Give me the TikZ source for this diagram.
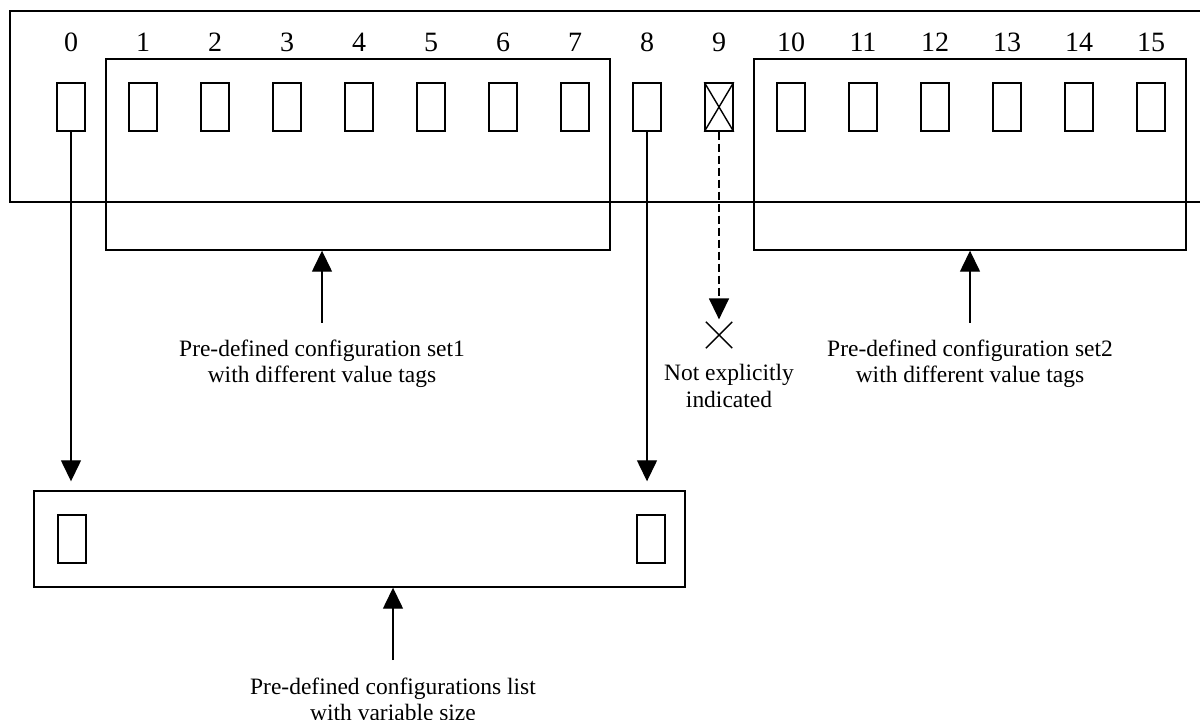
\documentclass[tikz,border=0pt]{standalone}
\usepackage{fontspec}
\setmainfont{Liberation Serif}
\usetikzlibrary{arrows.meta,fit,shapes.misc}
\begin{document}
\begin{tikzpicture}[x=0.025cm,y=-0.025cm, line width=1pt,
  slot/.style={draw, minimum width=0.7cm, minimum height=1.2cm, inner sep=0pt},
  frame/.style={draw, inner sep=0pt},
  num/.style={anchor=base, inner sep=0pt, font=\fontsize{19.9}{22}\selectfont},
  lbl/.style={anchor=north, inner sep=0pt, align=center, font=\fontsize{16.7}{18.9}\selectfont},
  arr/.style={-{Triangle[length=0.525cm,width=0.5cm]}},
  dsh/.style={dash pattern=on 0.2cm off 0.1cm}
  ]
\clip (0,0) rectangle (1200,720);
\node[frame, fit={(10,11) (1240,202)}] (outer) {};
\node[frame, fit={(106,59) (610,250)}] (set1) {};
\node[frame, fit={(754,59) (1186,250)}] (set2) {};
\foreach \i in {0,...,15} {
  \node[slot] (b\i) at ({71+72*\i},107) {};
  \node[num] (n\i) at ({71+72*\i},52) {\i};
}
\draw (b9.north west) -- (b9.south east) (b9.south west) -- (b9.north east);
% bottom list
\node[frame, fit={(34,491) (685,587)}] (list) {};
\node[slot] (l0) at (72,539) {};
\node[slot] (l1) at (651,539) {};
\draw[arr, shorten >=0.225cm] (b0.south) -- (b0.south |- list.north);
\draw[arr, shorten >=0.225cm] (b8.south) -- (b8.south |- list.north);
% not indicated
\node[draw, cross out, minimum size=0.625cm, inner sep=0pt] (x9) at (719,335) {};
\draw[arr, dsh, shorten >=0.06cm] (b9.south) -- (x9.north);
\node[lbl] (t9) at (729,364) {Not explicitly\\indicated};
% labels
\node[lbl] (t1) at (322,339) {Pre-defined configuration set1\\with different value tags};
\draw[arr, shorten <=0.4cm] (t1.north) -- (t1.north |- set1.south);
\node[lbl] (t2) at (970,339) {Pre-defined configuration set2\\with different value tags};
\draw[arr, shorten <=0.4cm] (t2.north) -- (t2.north |- set2.south);
\node[lbl] (tl) at (393,677) {Pre-defined configurations list\\with variable size};
\draw[arr, shorten <=0.425cm] (tl.north) -- (tl.north |- list.south);
\end{tikzpicture}
\end{document}
